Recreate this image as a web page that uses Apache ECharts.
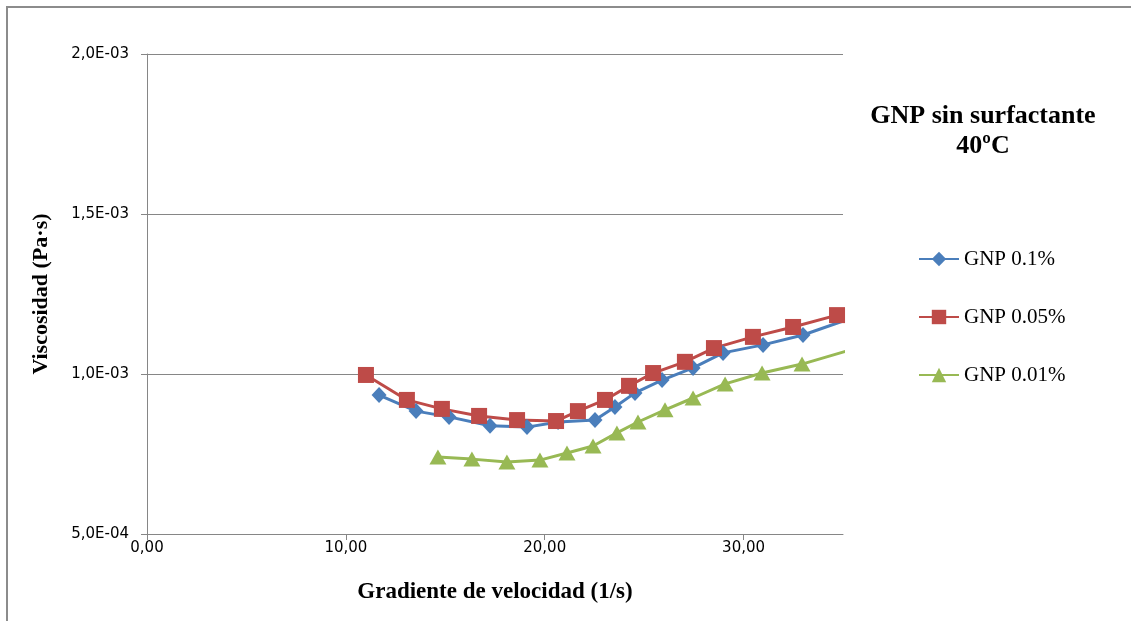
<!DOCTYPE html>
<html>
<head>
<meta charset="utf-8">
<script src="https://cdn.jsdelivr.net/npm/echarts@6/dist/echarts.min.js"></script>
<style>
html,body{margin:0;padding:0;background:#fff;}
#chart{width:1131px;height:621px;}
</style>
</head>
<body>
<div id="chart"></div>
<script>
const seriesNames = ['GNP 0.1%', 'GNP 0.05%', 'GNP 0.01%'];
const titleText = 'GNP sin surfactante\n40ºC';
const xAxisTitle = 'Gradiente de velocidad (1/s)';
const yAxisTitle = 'Viscosidad (Pa·s)';

const xBlue = [11.67, 13.53, 15.19, 17.25, 19.11, 20.67, 22.53, 23.53, 24.54, 25.90, 27.46, 28.97, 30.98, 32.99, 35.2];
const yBlue = [0.000934, 0.000884, 0.000866, 0.000838, 0.000834, 0.000850, 0.000856, 0.000897, 0.000941, 0.000981, 0.001019, 0.001066, 0.001091, 0.001122, 0.001170];

const xRed = [11.01, 13.07, 14.83, 16.70, 18.61, 20.57, 21.67, 23.03, 24.24, 25.45, 27.05, 28.51, 30.47, 32.49, 34.70];
const yRed = [0.000997, 0.000919, 0.000891, 0.000869, 0.000856, 0.000853, 0.000884, 0.000919, 0.000963, 0.001003, 0.001038, 0.001081, 0.001116, 0.001147, 0.001184];

const xGreen = [14.63, 16.34, 18.10, 19.76, 21.12, 22.43, 23.63, 24.69, 26.05, 27.46, 29.07, 30.93, 32.94, 35.2];
const yGreen = [0.000741, 0.000734, 0.000725, 0.000731, 0.000753, 0.000775, 0.000816, 0.000850, 0.000888, 0.000925, 0.000969, 0.001003, 0.001031, 0.001072];

function pairs(xs, ys) { return xs.map((x, i) => [x, ys[i]]); }

const chart = echarts.init(document.getElementById('chart'));
const grey = '#868686';
const serif = '"Liberation Serif", "Times New Roman", serif';
const labelFont = { color: '#000', fontFamily: '"DejaVu Sans", sans-serif', fontSize: 15 };

function yFmt(v) {
  const s = v.toExponential(1);
  const parts = s.split('e');
  const mant = parts[0].replace('.', ',');
  let exp = parseInt(parts[1], 10);
  const sign = exp < 0 ? '-' : '+';
  exp = Math.abs(exp);
  return mant + 'E' + sign + (exp < 10 ? '0' + exp : '' + exp);
}

const option = {
  backgroundColor: '#fff',
  animation: false,
  grid: { left: 147, top: 54, right: 288, bottom: 87, containLabel: false },
  legend: {
    orient: 'vertical',
    left: 913,
    top: 243,
    itemWidth: 40,
    itemHeight: 18,
    itemGap: 36,
    textStyle: { fontFamily: serif, fontSize: 21, color: '#000', lineHeight: 22, padding: [0, 0, 0, 0] },
    data: seriesNames
  },
  graphic: [
    { type: 'rect', silent: true, z: -10, shape: { x: 7, y: 7, width: 1300, height: 900 }, style: { fill: 'none', stroke: '#8c8c8c', lineWidth: 2 } },
    { type: 'text', x: 983, y: 101, style: { text: titleText, align: 'center', verticalAlign: 'top', font: 'bold 26px ' + serif, fill: '#000', lineHeight: 30 } }
  ],
  xAxis: {
    type: 'value', min: 0, max: 35, interval: 10,
    name: xAxisTitle, nameLocation: 'middle', nameGap: 47,
    nameTextStyle: { fontFamily: serif, fontWeight: 'bold', fontSize: 23, color: '#000' },
    axisLine: { show: true, lineStyle: { color: grey, width: 1 } },
    axisTick: { show: true, inside: false, length: 6, lineStyle: { color: grey } },
    axisLabel: Object.assign({ margin: 7, showMaxLabel: false, formatter: v => v.toFixed(2).replace('.', ',') }, labelFont),
    splitLine: { show: false }
  },
  yAxis: {
    type: 'value', min: 0.0005, max: 0.002, interval: 0.0005,
    name: yAxisTitle, nameLocation: 'middle', nameRotate: 90, nameGap: 95,
    nameTextStyle: { fontFamily: serif, fontWeight: 'bold', fontSize: 22, color: '#000' },
    axisLine: { show: true, lineStyle: { color: grey, width: 1 } },
    axisTick: { show: true, inside: false, length: 6, lineStyle: { color: grey } },
    axisLabel: Object.assign({ margin: 18, formatter: yFmt }, labelFont),
    splitLine: { show: true, lineStyle: { color: grey, width: 1 } }
  },
  series: [
    {
      name: seriesNames[0], type: 'line', data: pairs(xBlue, yBlue),
      symbol: 'diamond', symbolSize: [15, 16], clip: true,
      lineStyle: { color: '#4A7EBB', width: 3 },
      itemStyle: { color: '#4A7EBB', borderWidth: 0 }
    },
    {
      name: seriesNames[1], type: 'line', data: pairs(xRed, yRed),
      symbol: 'rect', symbolSize: 16, clip: true,
      lineStyle: { color: '#BE4B48', width: 3 },
      itemStyle: { color: '#BE4B48', borderWidth: 0 }
    },
    {
      name: seriesNames[2], type: 'line', data: pairs(xGreen, yGreen),
      symbol: 'triangle', symbolSize: [17, 15], clip: true,
      lineStyle: { color: '#98B954', width: 3 },
      itemStyle: { color: '#98B954', borderWidth: 0 }
    }
  ]
};
chart.setOption(option);
</script>
</body>
</html>
